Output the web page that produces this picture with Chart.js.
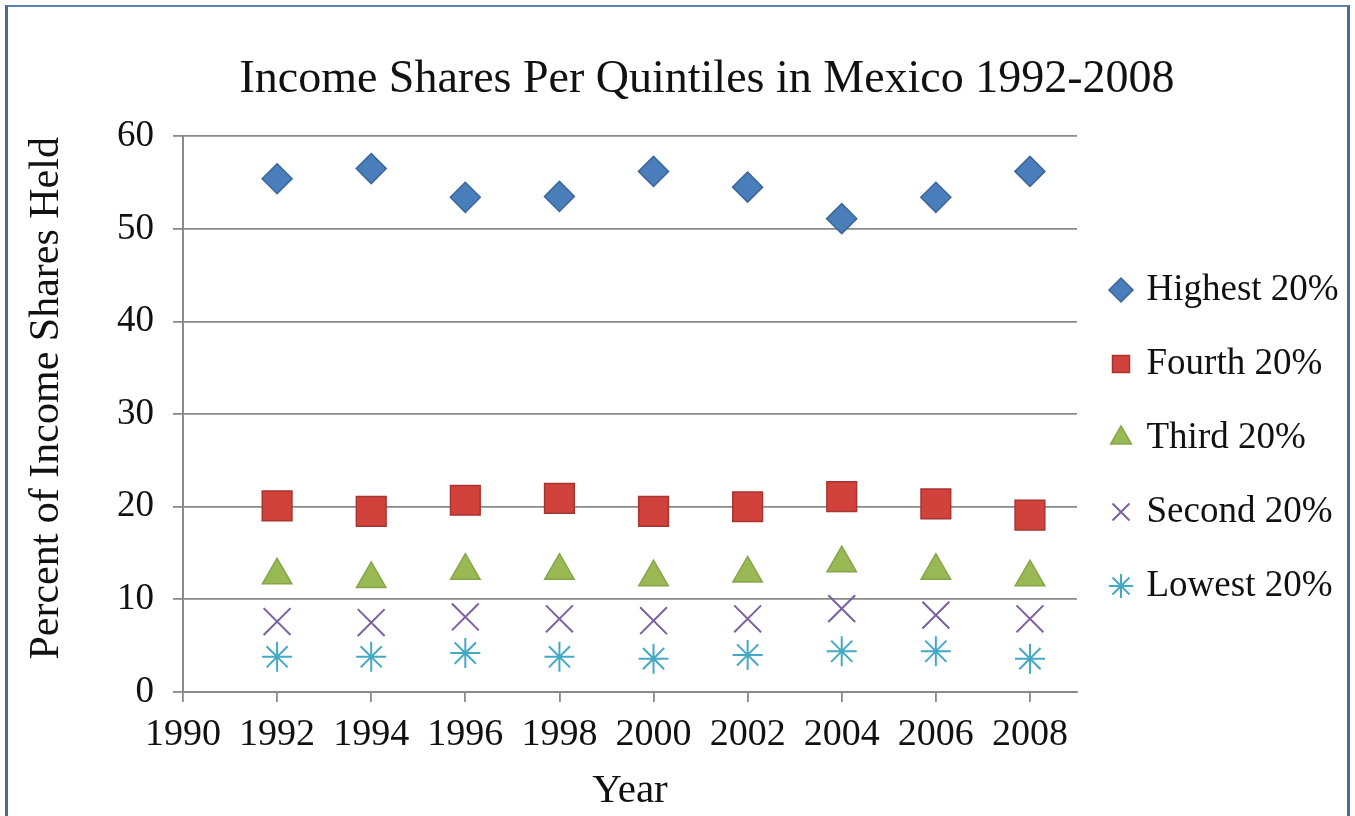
<!DOCTYPE html>
<html>
<head>
<meta charset="utf-8">
<script src="https://cdn.jsdelivr.net/npm/chart.js@4.4.1/dist/chart.umd.min.js"></script>
<style>
  html, body { margin: 0; padding: 0; background: #ffffff; overflow: hidden; }
  #wrap { position: relative; width: 1355px; height: 816px; }
  #c { position: absolute; left: 0; top: 0; }
  #frame { position: absolute; left: 5px; top: 5px; width: 1339px; height: 830px;
           border-left: 3px solid #4d6a8f; border-top: 2px solid #5a7fb0; border-right: 3px solid #4d6a8f;
           pointer-events: none; }
</style>
</head>
<body>
<div id="wrap">
  <canvas id="c" width="1355" height="816"></canvas>
  <div id="frame"></div>
</div>
<script>
// ---- data ----
const titleText = "Income Shares Per Quintiles in Mexico 1992-2008";
const xAxisTitle = "Year";
const yAxisTitle = "Percent of Income Shares Held";
const years = [1992, 1994, 1996, 1998, 2000, 2002, 2004, 2006, 2008];
const xTickLabels = [1990, 1992, 1994, 1996, 1998, 2000, 2002, 2004, 2006, 2008];
const yTickLabels = [0, 10, 20, 30, 40, 50, 60];
const seriesNames = ["Highest 20%", "Fourth 20%", "Third 20%", "Second 20%", "Lowest 20%"];
const highest = [55.4, 56.5, 53.4, 53.5, 56.2, 54.5, 51.1, 53.4, 56.2];
const fourth  = [20.1, 19.5, 20.7, 20.9, 19.5, 20.0, 21.1, 20.3, 19.1];
const third   = [12.6, 12.2, 13.1, 13.1, 12.4, 12.8, 13.9, 13.1, 12.4];
const second  = [7.6, 7.5, 8.1, 7.9, 7.7, 7.9, 9.0, 8.3, 7.9];
const lowest  = [3.8, 3.8, 4.2, 3.8, 3.6, 4.0, 4.4, 4.4, 3.6];

const toPts = arr => years.map((x, i) => ({ x: x, y: arr[i] }));
const FONT = "'Liberation Serif', 'Times New Roman', serif";
const GRID = "#8a8a8a";
const TEXT = "#111111";

// layout targets (pixels)
const W = 1355, PLOT_LEFT = 183, PLOT_RIGHT = 1077, TITLE_CENTER = 707;
const LEG_FONT = 37, LEG_PAD = 37, LEG_BOX = 14;
const mctx = document.createElement('canvas').getContext('2d');
mctx.font = LEG_FONT + "px " + FONT;
const maxLabelW = Math.max(...seriesNames.map(s => mctx.measureText(s).width));
const legendW = LEG_PAD + LEG_BOX + LEG_FONT / 2 + maxLabelW + 10;
const padRight = Math.max(0, W - PLOT_RIGHT - legendW);
const padLeft = 2 * TITLE_CENTER - W + padRight;

const datasets = [
  { label: seriesNames[0], data: toPts(highest), pointStyle: 'rectRot', pointRadius: 15,
    backgroundColor: '#4a7ebb', borderColor: '#3b679c', borderWidth: 1.5 },
  { label: seriesNames[1], data: toPts(fourth), pointStyle: 'rect', pointRadius: 21,
    backgroundColor: '#d2423d', borderColor: '#a8342f', borderWidth: 1.5 },
  { label: seriesNames[2], data: toPts(third), pointStyle: 'triangle', pointRadius: 17,
    backgroundColor: '#98b954', borderColor: '#86a64a', borderWidth: 1.5 },
  { label: seriesNames[3], data: toPts(second), pointStyle: 'crossRot', pointRadius: 19,
    backgroundColor: '#7d60a0', borderColor: '#7d60a0', borderWidth: 2 },
  { label: seriesNames[4], data: toPts(lowest), pointStyle: 'star', pointRadius: 15,
    backgroundColor: '#44a9c4', borderColor: '#44a9c4', borderWidth: 2 }
];

Chart.defaults.font.family = FONT;
Chart.defaults.color = TEXT;

new Chart(document.getElementById('c'), {
  type: 'scatter',
  data: { datasets: datasets },
  options: {
    responsive: false,
    animation: false,
    devicePixelRatio: 1,
    layout: { padding: { left: padLeft, right: padRight, top: 0, bottom: 0 } },
    plugins: {
      tooltip: { enabled: false },
      title: {
        display: true, text: titleText, color: TEXT,
        font: { family: FONT, size: 46, weight: 'normal' },
        padding: { top: 52, bottom: 29 }
      },
      legend: {
        position: 'right', align: 'center',
        title: { display: true, text: ' ', font: { size: 30 }, padding: { top: 24, bottom: 0 } },
        labels: {
          usePointStyle: true, boxWidth: LEG_BOX, boxHeight: 17, padding: LEG_PAD,
          color: TEXT, font: { family: FONT, size: LEG_FONT }
        }
      }
    },
    scales: {
      x: {
        type: 'linear', min: 1990, max: 2009,
        afterBuildTicks: s => { s.ticks = xTickLabels.map(v => ({ value: v })); },
        afterFit: s => { s.height = 124; },
        grid: { drawOnChartArea: false, color: GRID, tickColor: GRID, tickLength: 10, lineWidth: 1.8 },
        border: { display: true, color: GRID, width: 2 },
        ticks: { padding: 10, color: TEXT, font: { family: FONT, size: 38 }, maxRotation: 0, autoSkip: false,
                 callback: v => String(v) },
        title: { display: true, text: xAxisTitle, color: TEXT, font: { family: FONT, size: 41 },
                 padding: { top: 0, bottom: 0 } }
      },
      y: {
        type: 'linear', min: 0, max: 60,
        afterBuildTicks: s => { s.ticks = yTickLabels.map(v => ({ value: v })); },
        afterFit: s => { s.width = PLOT_LEFT - padLeft; },
        grid: { color: GRID, tickColor: GRID, tickLength: 10, lineWidth: 1.8 },
        border: { display: true, color: GRID, width: 2 },
        ticks: { padding: 19, color: TEXT, font: { family: FONT, size: 37 }, callback: v => String(v) },
        title: { display: true, text: "   " + yAxisTitle, color: TEXT, font: { family: FONT, size: 42 },
                 padding: { top: 47 - padLeft - 25, bottom: 0 } }
      }
    }
  }
});
</script>
</body>
</html>
